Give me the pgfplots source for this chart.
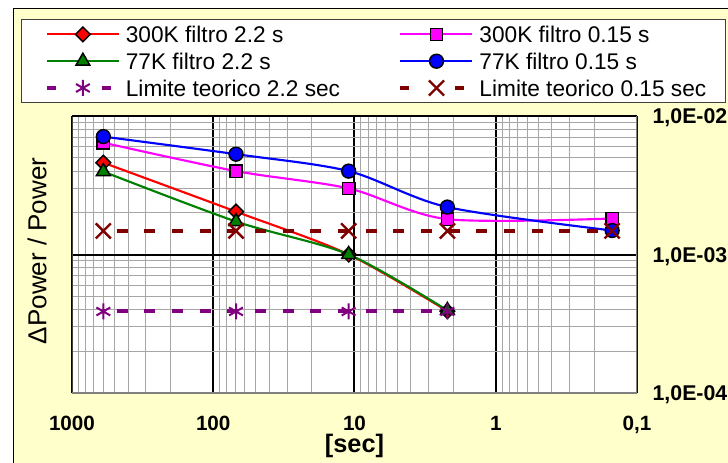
\documentclass[border=0pt]{standalone}
\usepackage{fontspec}
\setmainfont{Liberation Sans}
\usepackage{pgfplots}
\pgfplotsset{compat=1.18}
\definecolor{cream}{HTML}{FFFFCC}
\definecolor{lgray}{HTML}{A6A6A6}
\definecolor{dred}{HTML}{800000}
\definecolor{dpurple}{HTML}{800080}
\definecolor{dgreen}{HTML}{008000}
\definecolor{mag}{HTML}{FF00FF}
\pgfplotsset{dashlegend/.style={legend image code/.code={\draw[mark repeat=2,mark phase=2,##1, dash pattern=on 6.75pt off 34.5pt, dash phase=0pt] plot coordinates {(0pt,0pt) (27pt,0pt) (54pt,0pt)};}}}
\begin{document}
\begin{tikzpicture}
\path[use as bounding box] (0,0) rectangle (546pt,347.25pt);
\fill[white] (0,0) rectangle (546pt,347.25pt);
\fill[cream] (10pt,-5pt) rectangle (560pt,341pt);
\draw[black, line width=1.1pt] (10pt,-5pt) -- (10pt,341pt) -- (560pt,341pt);
\begin{axis}[
  at={(54pt,52.5pt)}, anchor=south west,
  scale only axis, width=423.75pt, height=207.75pt,
  xmode=log, ymode=log, x dir=reverse,
  xmin=0.1, xmax=1000, ymin=1e-4, ymax=1e-2,
  axis background/.style={fill=white},
  axis line style={draw=none},
  xtick={0.1,1,10,100,1000},
  xticklabels={{0,1},1,10,100,1000},
  ytick={1e-4,1e-3,1e-2},
  yticklabels={{1,0E-04},{1,0E-03},{1,0E-02}},
  minor xtick={0.2,0.3,0.4,0.5,0.6,0.7,0.8,0.9,2,3,4,5,6,7,8,9,20,30,40,50,60,70,80,90,200,300,400,500,600,700,800,900},
  minor ytick={2e-4,3e-4,4e-4,5e-4,6e-4,7e-4,8e-4,9e-4,2e-3,3e-3,4e-3,5e-3,6e-3,7e-3,8e-3,9e-3},
  grid=both,
  major grid style={black, line width=1.5pt},
  minor grid style={lgray, line width=0.75pt},
  major tick length=0pt, minor tick length=0pt,
  yticklabel pos=right,
  xticklabel style={font=\bfseries\fontsize{15.5}{17}\selectfont, anchor=center, inner sep=0pt, text height=11.1pt, text depth=0pt, yshift=-22.5pt},
  yticklabel style={font=\bfseries\fontsize{16}{18}\selectfont, anchor=west, inner sep=0pt, text height=11.5pt, text depth=0pt, xshift=11.5pt},
  xlabel={[sec]},
  ylabel={ΔPower / Power},
  every axis x label/.style={at={(axis description cs:0.5,0)}, anchor=center, yshift=-40.5pt, inner sep=0pt, text height=12.5pt, text depth=4pt, font=\bfseries\fontsize{19}{22}\selectfont},
  every axis y label/.style={at={(axis description cs:-0.062,0.513)}, anchor=center, rotate=90, inner sep=0pt, font=\fontsize{19.5}{22}\selectfont},
  legend columns=2,
  legend cell align=left,
  legend style={at={(axis description cs:-0.0908,1.3502)}, anchor=north west, fill=white, draw=black!75, line width=0.9pt,
    inner xsep=17.7pt, inner ysep=2.7pt, /tikz/column sep=0pt, /tikz/row sep=3.3pt,
    font=\fontsize{17}{20}\selectfont,
    nodes={inner sep=0pt, text height=14.5pt, text depth=2.3pt}, cells={anchor=west}},
  legend image code/.code={\draw[mark repeat=2,mark phase=2,#1] plot coordinates {(0pt,0pt) (27pt,0pt) (54pt,0pt)};},
]
% 300K filtro 2.2 s
\addplot[red, line width=1.6pt, smooth, tension=0.5, mark=square*, mark size=3.9pt,
  mark options={rotate=45, fill=red, draw=black, line width=1.1pt}]
  coordinates {(600,4.6e-3) (69,2.04e-3) (11,1.0e-3) (2.2,3.9e-4)};
\addlegendentry{\hspace{3.75pt}\makebox[204.45pt][l]{300K filtro 2.2 s}}
% 300K filtro 0.15 s
\addplot[mag, line width=1.6pt, smooth, tension=0.5, mark=square*, mark size=4.6pt,
  mark options={fill=mag, draw=black, line width=1.1pt}]
  coordinates {(600,6.42e-3) (69,4.0e-3) (11,3.0e-3) (2.2,1.8e-3) (0.15,1.82e-3)};
\addlegendentry{\hspace{3.75pt}\makebox[167pt][l]{300K filtro 0.15 s}}
% 77K filtro 2.2 s
\addplot[dgreen, line width=1.6pt, smooth, tension=0.5, mark=triangle*, mark size=6pt,
  mark options={fill=dgreen, draw=black, line width=1.1pt}]
  coordinates {(600,3.97e-3) (69,1.73e-3) (11,1.0e-3) (2.2,3.95e-4)};
\addlegendentry{\hspace{3.75pt}\makebox[204.45pt][l]{77K filtro 2.2 s}}
% 77K filtro 0.15 s
\addplot[blue, line width=1.6pt, smooth, tension=0.5, mark=*, mark size=5.2pt,
  mark options={fill=blue, draw=black, line width=1.1pt}]
  coordinates {(600,7.1e-3) (69,5.3e-3) (11,4.0e-3) (2.2,2.2e-3) (0.15,1.49e-3)};
\addlegendentry{\hspace{3.75pt}\makebox[167pt][l]{77K filtro 0.15 s}}
% Limite teorico 2.2 sec
\addplot[dpurple, line width=3pt, dash pattern=on 8.25pt off 12.5pt, dash phase=10.8pt,
  mark=asterisk, mark size=6pt, mark options={solid, line width=1.5pt}, dashlegend]
  coordinates {(600,3.88e-4) (69,3.88e-4) (11,3.88e-4) (2.2,3.88e-4)};
\addlegendentry{\hspace{3.75pt}\makebox[204.45pt][l]{Limite teorico 2.2 sec}}
% Limite teorico 0.15 sec
\addplot[dred, line width=3pt, dash pattern=on 8.25pt off 12.5pt, dash phase=10.8pt,
  mark=x, mark size=8pt, mark options={solid, line width=1.8pt}, dashlegend]
  coordinates {(600,1.48e-3) (69,1.48e-3) (11,1.48e-3) (2.2,1.48e-3) (0.15,1.48e-3)};
\addlegendentry{\hspace{3.75pt}\makebox[167pt][l]{Limite teorico 0.15 sec}}
\draw[black!75, line width=1.5pt] (rel axis cs:0,0) -- (rel axis cs:0,1);
\draw[black, line width=1.5pt] (rel axis cs:0,1) -- (rel axis cs:1,1);
\draw[gray, line width=1.5pt] (rel axis cs:1,1) -- (rel axis cs:1,0) -- (rel axis cs:0,0);
\end{axis}
\end{tikzpicture}
\end{document}
